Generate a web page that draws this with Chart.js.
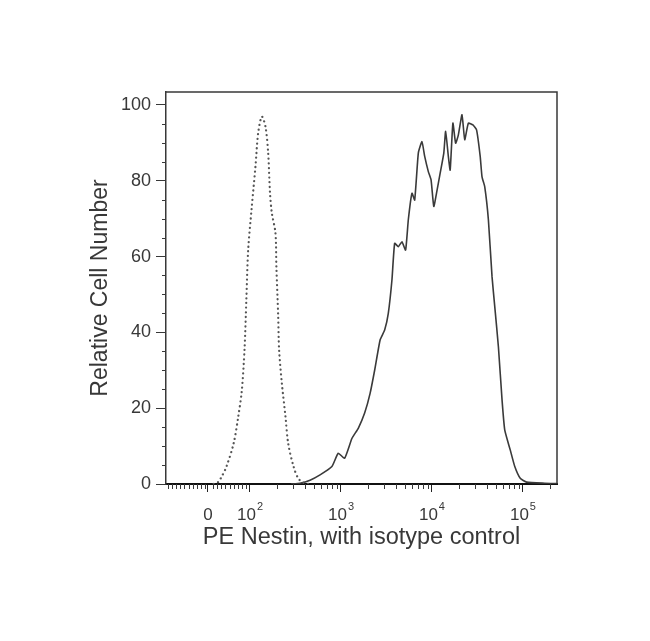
<!DOCTYPE html>
<html>
<head>
<meta charset="utf-8">
<script src="https://cdn.jsdelivr.net/npm/chart.js@4/dist/chart.umd.min.js"></script>
<style>
  html, body { margin: 0; padding: 0; background: #fff; }
  #chart { display: block; }
</style>
</head>
<body>
<canvas id="chart" width="650" height="641"></canvas>
<script>
// x positions are in display decades of the biexponential axis (2 = 10^2, 3 = 10^3 ...)
const isotypeX = [1.60, 1.65, 1.69, 1.74, 1.82, 1.87, 1.91, 1.94, 1.96, 1.98, 2.02, 2.06, 2.09, 2.13,
  2.17, 2.20, 2.22, 2.24, 2.28, 2.29, 2.31, 2.32, 2.35, 2.39, 2.42, 2.48, 2.53, 2.59, 2.65];
const isotypeY = [0, 0.5, 2, 4.5, 10.7, 17.6, 24.6, 35.5, 48.6, 61.7, 73.2, 83.7, 92.6, 96.9,
  94.3, 87.3, 76.8, 71.5, 66.2, 57.4, 44.2, 35.4, 26.6, 17.8, 10.7, 4.5, 1.5, 0.3, 0];

const nestinX = [2.45, 2.55, 2.66, 2.77, 2.90, 2.97, 3.04, 3.12, 3.19, 3.26, 3.32, 3.37, 3.43, 3.48,
  3.52, 3.56, 3.59, 3.63, 3.67, 3.71, 3.74, 3.78, 3.81, 3.85, 3.89, 3.92, 3.96, 3.99, 4.02, 4.05,
  4.09, 4.13, 4.15, 4.18, 4.20, 4.23, 4.26, 4.29, 4.33, 4.36, 4.40, 4.45, 4.49, 4.53, 4.55, 4.58,
  4.62, 4.66, 4.69, 4.73, 4.77, 4.80, 4.86, 4.91, 4.97, 5.04, 5.24, 5.37];
const nestinY = [0, 0.2, 1, 2.4, 4.6, 8.1, 6.8, 12, 14.7, 18.7, 23.9, 30, 38, 40.6,
  45, 53.8, 63.5, 62.6, 63.9, 61.7, 69.7, 76.7, 74.9, 87.3, 90.3, 86.4, 82.4, 80.2, 73.2, 76.7,
  82, 87.3, 93, 86.4, 82.8, 95.2, 89.9, 92.1, 97.4, 90.8, 95.2, 94.7, 93.4, 86.4, 81, 78.4,
  69.7, 54.7, 46.8, 36.2, 22.2, 14.2, 9, 4.6, 1.5, 0.5, 0.2, 0.1];

const xTickPos = [1.538, 2, 3, 4, 5];
const xTickBase = ['0', '10', '10', '10', '10'];
const xTickExp = ['', '2', '3', '4', '5'];
const yTicks = [0, 20, 40, 60, 80, 100];

const X_MIN = 1.077, X_MAX = 5.374;
const INK = '#383838';
const FONT = '"Liberation Sans", Arial, sans-serif';

function points(xs, ys) {
  return xs.map((x, i) => ({ x, y: ys[i] }));
}

function minorXTicks() {
  const out = [];
  for (let p = 1.10; p < 1.96; p += 0.045) {
    if (Math.abs(p - 1.538) > 0.02) out.push(p);
  }
  for (let d = 2; d <= 4; d++) {
    for (let k = 2; k <= 9; k++) out.push(d + Math.log10(k));
  }
  out.push(5 + Math.log10(2));
  return out;
}

const axisDecor = {
  id: 'axisDecor',
  afterDraw(chart) {
    const { ctx, chartArea: a, scales: { x, y } } = chart;
    ctx.save();
    // top and right frame
    ctx.strokeStyle = INK;
    ctx.lineWidth = 1.5;
    ctx.beginPath();
    ctx.moveTo(a.left, a.top);
    ctx.lineTo(a.right, a.top);
    ctx.lineTo(a.right, a.bottom);
    ctx.stroke();

    // minor ticks
    ctx.lineWidth = 1;
    ctx.beginPath();
    for (let v = 5; v < 103; v += 5) {
      if (v % 20 === 0) continue;
      const py = Math.round(y.getPixelForValue(v)) + 0.5;
      ctx.moveTo(a.left - 4, py);
      ctx.lineTo(a.left, py);
    }
    minorXTicks().forEach(p => {
      const px = Math.round(x.getPixelForValue(p)) + 0.5;
      ctx.moveTo(px, a.bottom);
      ctx.lineTo(px, a.bottom + 5);
    });
    ctx.stroke();

    // x tick labels with superscripts
    ctx.fillStyle = INK;
    ctx.textBaseline = 'middle';
    ctx.textAlign = 'left';
    const baseFont = '17px ' + FONT;
    const expFont = '11px ' + FONT;
    const ly = a.bottom + 31;
    xTickPos.forEach((p, i) => {
      ctx.font = baseFont;
      const wb = ctx.measureText(xTickBase[i]).width;
      ctx.font = expFont;
      const we = xTickExp[i] ? ctx.measureText(xTickExp[i]).width + 1 : 0;
      const start = x.getPixelForValue(p) - (wb + we) / 2;
      ctx.font = baseFont;
      ctx.fillText(xTickBase[i], start, ly);
      if (xTickExp[i]) {
        ctx.font = expFont;
        ctx.fillText(xTickExp[i], start + wb + 1, ly - 8);
      }
    });
    ctx.restore();
  }
};

new Chart(document.getElementById('chart'), {
  type: 'scatter',
  data: {
    datasets: [
      {
        label: 'Isotype control',
        data: points(isotypeX, isotypeY),
        showLine: true,
        borderColor: '#555',
        borderWidth: 2.2,
        borderDash: [0.1, 4.6],
        borderCapStyle: 'round',
        pointRadius: 0,
        tension: 0.3
      },
      {
        label: 'PE Nestin',
        data: points(nestinX, nestinY),
        showLine: true,
        borderColor: '#3a3a3a',
        borderWidth: 1.6,
        pointRadius: 0,
        tension: 0.15
      }
    ]
  },
  options: {
    responsive: false,
    animation: false,
    layout: { padding: { left: 0, top: 92, right: 93, bottom: 0 } },
    plugins: { legend: { display: false }, tooltip: { enabled: false } },
    scales: {
      x: {
        type: 'linear',
        min: X_MIN,
        max: X_MAX,
        afterBuildTicks: scale => { scale.ticks = xTickPos.map(value => ({ value })); },
        afterFit: scale => { scale.height = 157; },
        ticks: { display: false },
        grid: { drawOnChartArea: false, drawTicks: true, tickLength: 8, color: '#222', lineWidth: 1 },
        border: { display: true, color: '#111', width: 2 },
        title: {
          display: true,
          text: 'PE Nestin, with isotype control',
          color: INK,
          font: { family: FONT, size: 23.5 },
          padding: { top: 0, bottom: 89 }
        }
      },
      y: {
        type: 'linear',
        min: 0,
        max: 103.4,
        afterBuildTicks: scale => { scale.ticks = yTicks.map(value => ({ value })); },
        afterFit: scale => { scale.width = 166; },
        ticks: {
          color: INK,
          padding: 5,
          font: { family: FONT, size: 18 }
        },
        grid: { drawOnChartArea: false, drawTicks: true, tickLength: 10, color: INK, lineWidth: 1 },
        border: { display: true, color: INK, width: 1.5 },
        title: {
          display: true,
          text: 'Relative Cell Number',
          color: INK,
          font: { family: FONT, size: 23 },
          padding: { top: 87, bottom: 0 }
        }
      }
    }
  },
  plugins: [axisDecor]
});
</script>
</body>
</html>
